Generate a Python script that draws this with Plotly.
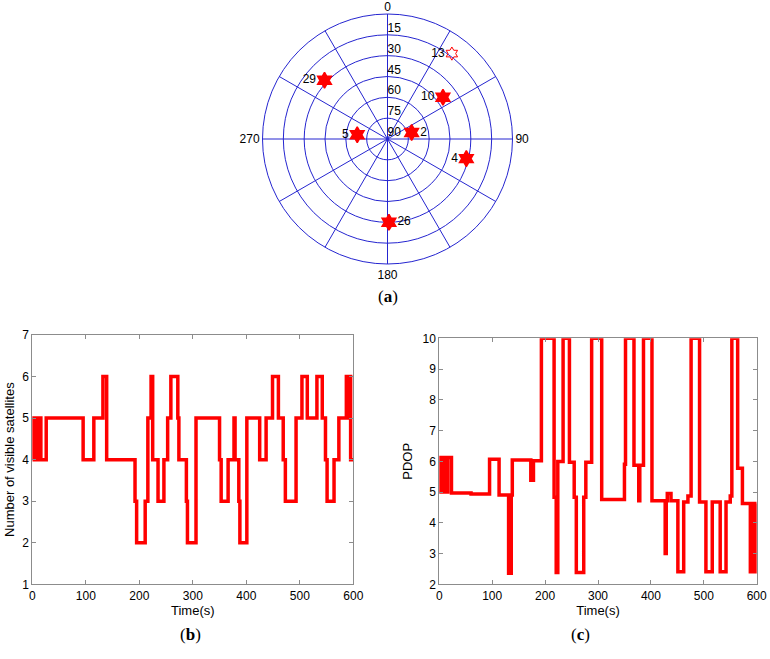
import plotly.graph_objects as go

# (a) sky plot: satellite azimuth / elevation in degrees
sat_prn = ["13", "29", "10", "5", "2", "4", "26"]
sat_azimuth = [37, 313, 53, 278, 75, 104, 179]
sat_elevation = [13, 28, 40, 68, 72, 31.5, 30]
sat_label_side = ["middle left", "middle left", "middle left", "middle left",
                  "middle right", "middle left", "middle right"]
elev_ticks = [0, 15, 30, 45, 60, 75, 90]
az_ticks = [0, 30, 60, 90, 120, 150, 180, 210, 240, 270, 300, 330]
az_labels = ["", "", "", "90", "", "", "180", "", "", "270", "", ""]

# (b) number of visible satellites (step starts)
b_time = [0, 2, 5, 8, 11, 13, 16, 26, 95, 115, 132, 139, 192, 195, 211, 216,
          222, 225, 235, 246, 253, 259, 272, 274, 288, 290, 306, 350, 353, 366,
          377, 379, 386, 388, 401, 425, 437, 449, 460, 469, 473, 493, 504, 514,
          532, 542, 548, 551, 564, 573, 587, 590, 592, 595, 600]
b_count = [4, 5, 4, 5, 4, 5, 4, 5, 4, 5, 6, 4, 3, 2, 3, 5,
           6, 4, 3, 4, 5, 6, 5, 4, 3, 2, 5, 4, 3, 4,
           5, 4, 3, 2, 5, 4, 5, 6, 5, 4, 3, 5, 6, 5,
           6, 5, 4, 3, 4, 5, 6, 5, 6, 4, 4]

# (c) PDOP (step starts)
c_time = [0, 1, 2, 3, 4, 5, 6, 8, 9, 10, 11, 12, 13, 14, 15, 16, 23, 60, 95,
          113, 131, 136, 138, 173, 178, 193, 217, 221, 224, 234, 246, 255, 259,
          273, 277, 288, 307, 350, 352, 368, 377, 379, 386, 402, 427, 429, 431,
          438, 451, 462, 470, 476, 492, 504, 516, 531, 542, 550, 553, 564, 573,
          588, 590, 592, 594, 596, 598, 600]
c_pdop = [5.0, 6.12, 5.0, 6.12, 5.0, 6.12, 5.0, 6.12, 5.0, 6.12, 5.0, 6.12, 5.0,
          6.12, 5.0, 6.12, 4.97, 4.94, 6.07, 4.9, 2.36, 4.9, 6.04, 5.38, 6.02,
          10, 4.83, 2.38, 5.99, 10, 5.97, 4.83, 2.38, 4.83, 5.97, 10, 4.76, 5.9,
          10, 5.87, 4.72, 5.87, 10, 4.72, 3.0, 4.72, 4.95, 4.72, 2.41, 4.68,
          4.87, 10, 4.68, 2.41, 4.68, 2.41, 4.68, 4.87, 10, 5.77, 4.63, 2.41,
          4.63, 2.41, 4.63, 2.41, 4.63, 4.63]

RED = "#ff0000"
BLUE = "#2525d0"
FONT = "Liberation Sans, Arial, sans-serif"

fig = go.Figure()

# elevation ring labels, drawn along the 0 deg spoke ("0" doubles as the north label)
fig.add_trace(go.Scatterpolar(
    r=[90 - e for e in elev_ticks], theta=[0] * len(elev_ticks),
    text=[str(e) for e in elev_ticks], mode="text",
    textposition=["top center"] + ["top right"] * (len(elev_ticks) - 1),
    textfont=dict(size=12, color="black", family=FONT),
    showlegend=False, cliponaxis=False))

sat_r = [90 - e for e in sat_elevation]
filled = [i for i, p in enumerate(sat_prn) if p != "13"]
fig.add_trace(go.Scatterpolar(
    r=[sat_r[i] for i in filled], theta=[sat_azimuth[i] for i in filled],
    text=[sat_prn[i] for i in filled], mode="markers+text",
    textposition=[sat_label_side[i] for i in filled],
    marker=dict(symbol="hexagram", size=12, color=RED, line=dict(color=RED, width=1.5)),
    textfont=dict(size=12, color="black", family=FONT),
    showlegend=False, cliponaxis=False))
fig.add_trace(go.Scatterpolar(
    r=[sat_r[0]], theta=[sat_azimuth[0]], text=[sat_prn[0]],
    mode="markers+text", textposition=sat_label_side[0],
    marker=dict(symbol="hexagram-open", size=10, color=RED, line=dict(width=1)),
    textfont=dict(size=12, color="black", family=FONT),
    showlegend=False, cliponaxis=False))

fig.add_trace(go.Scatter(
    x=b_time, y=b_count, mode="lines", line=dict(color=RED, width=3.5, shape="hv"),
    showlegend=False, xaxis="x", yaxis="y"))
fig.add_trace(go.Scatter(
    x=c_time, y=c_pdop, mode="lines", line=dict(color=RED, width=3.5, shape="hv"),
    showlegend=False, xaxis="x2", yaxis="y2"))

W, H = 770, 659
cx, cy, rad = 387.5, 139, 125

axis_style = dict(showline=True, mirror="ticks", linecolor="#8c8c8c", linewidth=1,
                  ticks="inside", ticklen=4, tickcolor="#8c8c8c", showgrid=False,
                  zeroline=False, automargin=False,
                  tickfont=dict(size=12, color="black", family=FONT))

fig.update_layout(
    width=W, height=H, margin=dict(l=0, r=0, t=0, b=0, autoexpand=False),
    paper_bgcolor="white", plot_bgcolor="white",
    font=dict(family=FONT, color="black"),
    polar=dict(
        domain=dict(x=[(cx - rad) / W, (cx + rad) / W],
                    y=[1 - (cy + rad) / H, 1 - (cy - rad) / H]),
        bgcolor="white",
        angularaxis=dict(rotation=90, direction="clockwise", tickvals=az_ticks,
                         ticktext=az_labels, showline=True, linecolor=BLUE,
                         gridcolor=BLUE, gridwidth=1, ticks="",
                         tickfont=dict(size=12, color="black", family=FONT)),
        radialaxis=dict(range=[0, 90], tickvals=[15, 30, 45, 60, 75, 90],
                        showticklabels=False, ticks="", showline=False,
                        gridcolor=BLUE, gridwidth=1),
    ),
    xaxis=dict(domain=[32.3 / W, 353.3 / W], anchor="y", range=[0, 600],
               tickvals=[0, 100, 200, 300, 400, 500, 600],
               title=dict(text="Time(s)", standoff=2, font=dict(size=13)), **axis_style),
    yaxis=dict(domain=[1 - 584.3 / H, 1 - 335 / H], anchor="x", range=[1, 7],
               tickvals=[1, 2, 3, 4, 5, 6, 7],
               title=dict(text="Number of visible satellites", standoff=4,
                          font=dict(size=13)), **axis_style),
    xaxis2=dict(domain=[439.3 / W, 756.7 / W], anchor="y2", range=[0, 600],
                tickvals=[0, 100, 200, 300, 400, 500, 600],
                title=dict(text="Time(s)", standoff=2, font=dict(size=13)), **axis_style),
    yaxis2=dict(domain=[1 - 584.3 / H, 1 - 338.3 / H], anchor="x2", range=[2, 10],
                tickvals=[2, 3, 4, 5, 6, 7, 8, 9, 10],
                title=dict(text="PDOP", standoff=6, font=dict(size=13)), **axis_style),
)

for label, x, y in [("a", 388, 297), ("b", 190, 634), ("c", 580, 634)]:
    fig.add_annotation(text="(<b>%s</b>)" % label, x=x / W, y=1 - y / H,
                       xref="paper", yref="paper", showarrow=False,
                       xanchor="center", yanchor="middle",
                       font=dict(size=17, color="black",
                                 family="Liberation Serif, Times New Roman, serif"))

# drop the browser's default page margin so the figure sits at the top-left corner
fig.write_html("out.html", config={"displayModeBar": False},
               post_script="document.body.style.margin = '0';")
